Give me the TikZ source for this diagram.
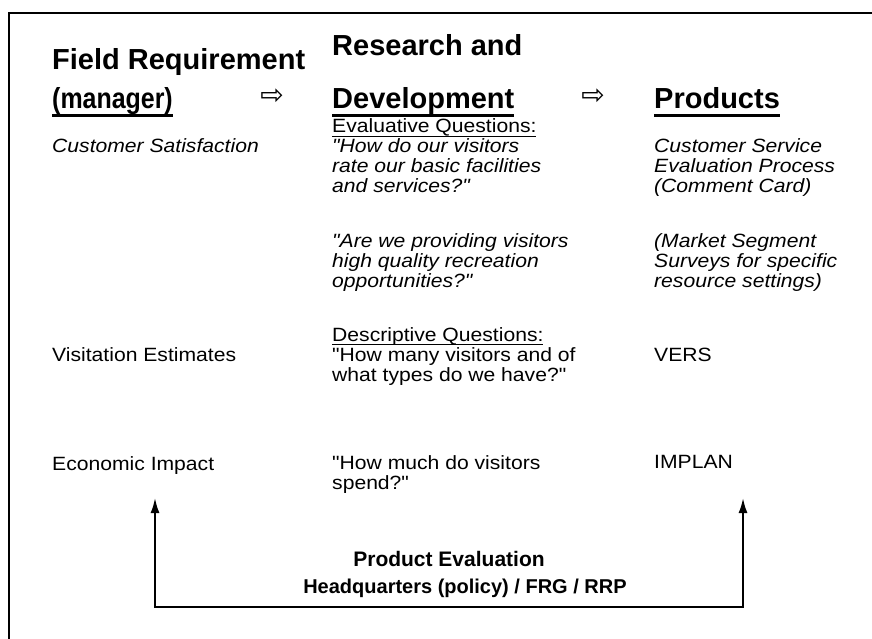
\documentclass[tikz,border=0pt]{standalone}
\usepackage{fontspec}
\setmainfont{Liberation Sans}
\newfontfamily\plainsans{Liberation Sans}
\newfontfamily\widesans{Liberation Sans}[FakeStretch=1.1]
\newfontfamily\narrowsans{Liberation Sans}[FakeStretch=0.86]
\newfontfamily\arrowfont{DejaVu Sans}
\usetikzlibrary{arrows.meta}
\newcommand{\headfont}{\plainsans\fontsize{29}{34}\selectfont\bfseries}
\newcommand{\bodyfont}{\widesans\fontsize{19.2}{20}\selectfont}
\newcommand{\headul}[1]{\setbox0=\hbox{#1}\rlap{\rule[-7.6pt]{\wd0}{2.6pt}}\box0}
\newcommand{\bodyul}[1]{\setbox0=\hbox{#1}\rlap{\rule[-4pt]{\wd0}{1.4pt}}\box0}
\newcommand{\hollowarrow}{{\arrowfont ⇨}}
\tikzset{
	head/.style={anchor=base west, inner sep=0pt, font=\headfont},
	body/.style={anchor=base west, inner sep=0pt, align=left, font=\bodyfont},
	flowsym/.style={inner sep=0pt, font=\fontsize{28}{28}\selectfont},
	feedback/.style={line width=2pt, {Latex[length=15pt,width=9pt]}-{Latex[length=15pt,width=9pt]}}
}

\begin{document}
\begin{tikzpicture}[x=1pt, y=-1pt]

					\useasboundingbox (0,0) rectangle (872,639);
					\draw[line width=2.6pt] (9,639) -- (9,13) -- (872,13);

					% headings
					\node[head] (fieldreq) at (52,70) {Field Requirement};
					\node[head, font=\narrowsans\fontsize{29}{34}\selectfont\bfseries] (manager) at (52,109) {\headul{(manager)}};
					\node[flowsym] (flowa) at (272,97) {\hollowarrow};
					\node[head] (research) at (332,56) {Research and};
					\node[head] (develop) at (332,109) {\headul{Development}};
					\node[flowsym] (flowb) at (593,97) {\hollowarrow};
					\node[head] (products) at (654,109) {\headul{Products}};

					% field requirements (base = last line)
					\node[body, font=\bodyfont\itshape] (custsat) at (52,153) {Customer Satisfaction};
					\node[body] (visit) at (52,361) {Visitation Estimates};
					\node[body] (econ) at (52,470) {Economic Impact};

					% research and development
					\node[body] (evalq) at (332,193) {\bodyul{Evaluative Questions:}\\
						\textit{"How do our visitors}\\
						\textit{rate our basic facilities}\\
						\textit{and services?"}};
					\node[body, font=\bodyfont\itshape] (quality) at (332,287) {"Are we providing visitors\\
						high quality recreation\\
						opportunities?"};
					\node[body] (descq) at (332,381) {\bodyul{Descriptive Questions:}\\
						"How many visitors and of\\
						what types do we have?"};
					\node[body] (spend) at (332,489) {"How much do visitors\\
						spend?"};

					% products
					\node[body, font=\bodyfont\itshape] (cardproc) at (654,193) {Customer Service\\
						Evaluation Process\\
						(Comment Card)};
					\node[body, font=\bodyfont\itshape] (surveys) at (654,287) {(Market Segment\\
						Surveys for specific\\
						resource settings)};
					\node[body] (vers) at (654,361) {VERS};
					\node[body] (implan) at (654,468) {IMPLAN};

					% product evaluation loop
					\node[anchor=base, inner sep=0pt, font=\plainsans\fontsize{21}{26}\selectfont\bfseries] (prodeval) at (449,566) {Product Evaluation};
					\node[anchor=base, inner sep=0pt, font=\plainsans\fontsize{20}{22}\selectfont\bfseries] (hq) at (465,593) {Headquarters (policy) / FRG / RRP};

					\coordinate (fbleft) at (155,498);
					\coordinate (fbright) at (743,498);
					\coordinate (fbbase) at (449,607);
					\draw[feedback] (fbleft) -- (fbleft |- fbbase) -- (fbright |- fbbase) -- (fbright);

\end{tikzpicture}
\end{document}
